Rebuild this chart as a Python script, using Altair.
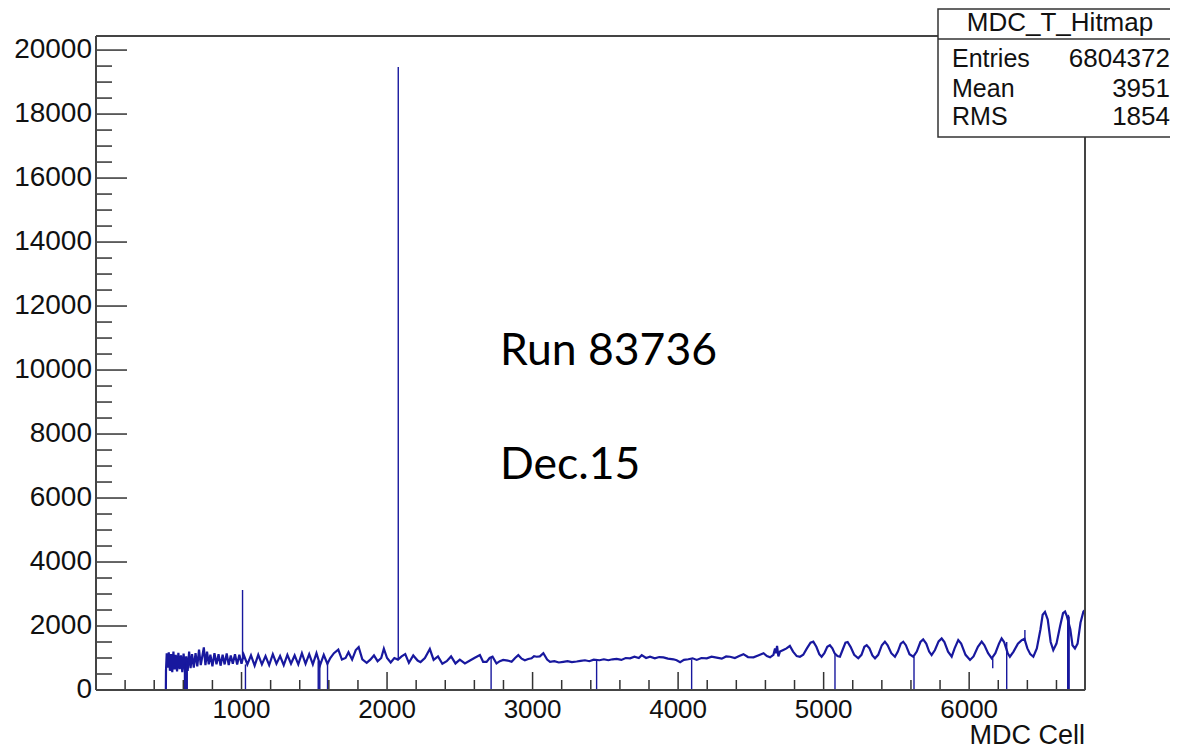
import altair as alt
import pandas as pd

# ---- histogram contents (cell, counts) ----
cells = [480, 481, 486, 493, 500, 508, 516, 524, 532, 540, 548, 557, 566, 575, 584, 593, 602, 611, 620, 630,
         640, 650, 660, 672, 684, 696, 708, 720, 741, 752, 763, 775, 786, 800, 814, 828, 842, 856, 870, 884,
         898, 912, 926, 940, 955, 970, 985, 1000,
         1015, 1040, 1065, 1090, 1115, 1140, 1165, 1190, 1215, 1240, 1265, 1290, 1315, 1340, 1365, 1390, 1415,
         1440, 1465, 1490, 1515, 1540, 1565, 1590, 1610,
         1635, 1665, 1690, 1715, 1735, 1760, 1785, 1805, 1830, 1860, 1885, 1910, 1935, 1960, 1978, 2000, 2025,
         2050, 2075, 2100,
         2125, 2150, 2180, 2210, 2230, 2260, 2294, 2320, 2350, 2380, 2410, 2440, 2470, 2500, 2535, 2570, 2600,
         2638, 2660, 2684, 2705, 2725, 2752, 2775,
         2798, 2830, 2856, 2880, 2902, 2925, 2947, 2970, 2993, 3010, 3028, 3050, 3074, 3100, 3120, 3150, 3180,
         3211, 3240, 3270, 3303, 3330, 3360, 3390, 3420, 3460, 3490, 3520, 3550, 3578, 3610, 3640, 3670, 3700,
         3730, 3750, 3780, 3807, 3840, 3870, 3899, 3930, 3968, 3990, 4014, 4040,
         4070, 4100, 4128, 4160, 4197, 4230, 4265, 4300, 4330, 4357, 4390, 4420, 4449, 4480, 4518, 4550, 4587,
         4610, 4632, 4655, 4666, 4672, 4680, 4689, 4700, 4723,
         4745, 4768, 4790, 4815, 4837, 4860, 4885, 4910, 4929, 4950, 4970, 4986, 5005, 5025, 5043, 5060, 5075,
         5095, 5112, 5130, 5150, 5165, 5185, 5210, 5238, 5260, 5280, 5296, 5315, 5335, 5353, 5375, 5400, 5421,
         5440, 5465, 5490, 5510, 5530, 5547, 5565, 5590, 5616, 5640, 5665, 5684, 5705, 5725, 5742, 5765, 5790,
         5811, 5830, 5855, 5880, 5900, 5925, 5945, 5975, 6006, 6030, 6060, 6086, 6105, 6130, 6155, 6180, 6205,
         6223, 6240, 6265, 6280, 6305, 6335, 6361, 6380, 6400, 6420, 6441, 6465, 6490, 6505, 6521, 6540, 6560,
         6578, 6600, 6625, 6645, 6659, 6672, 6695, 6710, 6727, 6745, 6765, 6785, 6796]
counts = [0, 620, 1150, 700, 1180, 600, 1120, 560, 1200, 640, 1100, 580, 1160, 650, 1080, 560, 1140, 620, 1050, 600,
          1200, 680, 1120, 700, 1150, 740, 1260, 780, 1330, 780, 1200, 800, 1100, 740, 1150, 800, 1120, 760, 1100, 800,
          1140, 780, 1080, 820, 1120, 800, 1100, 820,
          1100, 800, 1080, 760, 1100, 800, 1060, 780, 1120, 820, 1060, 780, 1100, 820, 1080, 800, 1150,
          820, 1120, 800, 1150, 780, 1100, 820, 1000,
          1150, 1260, 950, 1000, 1180, 950, 1250, 1340, 960, 850, 950, 1080, 900, 1000, 1290, 1000, 860,
          1000, 950, 1050,
          1120, 850, 1080, 920, 870, 1000, 1280, 940, 1050, 820, 900, 1050, 830, 950, 830, 920, 1000,
          1090, 880, 880, 1000, 1040, 830, 900,
          940, 920, 880, 1000, 1090, 980, 930, 970, 990, 1060, 1040, 1050, 1150, 950, 880, 900, 860,
          880, 900, 870, 890, 910, 930, 900, 950, 930, 960, 930, 960, 970, 940, 1000, 990, 1040,
          1000, 1090, 1000, 1040, 990, 1030, 1020, 980, 960, 930, 870, 940,
          960, 990, 940, 1000, 990, 1040, 1010, 980, 1050, 1040, 1000, 1060, 1120, 1030, 1020, 1080, 1150,
          1060, 1020, 1100, 1300, 1150, 1380, 1050, 1200, 1250,
          1300, 1380, 1200, 1060, 1040, 1100, 1300, 1480, 1510, 1350, 1120, 1040, 1150, 1350, 1400, 1300, 1150,
          1060, 1040, 1250, 1480, 1500, 1350, 1100, 990, 1100, 1350, 1400, 1300, 1080, 990, 1100, 1400, 1510,
          1400, 1150, 1040, 1200, 1450, 1510, 1400, 1120, 1040, 1200, 1500, 1580, 1450, 1200, 1090, 1250, 1520,
          1610, 1500, 1200, 1040, 1300, 1560, 1450, 1100, 940, 1050, 1350, 1510, 1400, 1150, 990, 1150, 1450,
          1610, 1500, 1150, 1040, 1200, 1450, 1560, 1600, 1300, 1120, 1040, 1300, 1900, 2350, 2440, 2200, 1500,
          1250, 1450, 2000, 2400, 2450, 2300, 1900, 1400, 1300, 1450, 2100, 2450, 2500]

# single-bin spikes and dead cells (cell, from, to)
rule_cells = [1007, 2077, 6383, 608, 613, 618, 623, 627, 1027, 1527, 1533, 1538, 1591, 2715, 3440, 4093,
              5078, 5621, 6162, 6258, 6677, 6682, 6687]
rule_lo = [1000, 950, 1550, 0, 0, 0, 0, 0, 0, 0, 0, 0, 0, 0, 0, 0, 0, 0, 677, 0, 0, 0, 0]
rule_hi = [3125, 19470, 1875, 800, 850, 800, 900, 800, 800, 900, 850, 900, 900, 1000, 950, 950,
           1150, 1040, 990, 1500, 2300, 2350, 2300]

x_labels = [1000, 2000, 3000, 4000, 5000, 6000]
x_minor = [v for v in range(200, 6796, 200) if v % 1000]
y_labels = list(range(0, 20001, 2000))
y_minor = [v for v in range(500, 20001, 500) if v % 2000]

stat_names = ["Entries", "Mean", "RMS"]
stat_values = ["6804372", "3951", "1854"]

W, H = 989, 654
BLUE = "#18189e"
FONT = "Liberation Sans"
TXT = "#111111"

main = pd.DataFrame({"cell": cells, "count": counts})
rules = pd.DataFrame({"cell": rule_cells, "lo": rule_lo, "hi": rule_hi})

xs = alt.Scale(domain=[0, 6796], nice=False, zero=False)
ys = alt.Scale(domain=[0, 20440], nice=False)
X = lambda f: alt.X(f, type="quantitative", scale=xs, axis=None)
Y = lambda f: alt.Y(f, type="quantitative", scale=ys, axis=None)

line = alt.Chart(main).mark_line(color=BLUE, strokeWidth=2.2).encode(x=X("cell"), y=Y("count"))

spikes = alt.Chart(rules).mark_rule(color=BLUE, strokeWidth=1.4).encode(x=X("cell"), y=Y("lo"), y2="hi:Q")

tick_color = "#333333"
xmaj = alt.Chart(pd.DataFrame({"cell": x_labels})).mark_rule(color=tick_color, strokeWidth=1.5).encode(
    x=X("cell"), y=alt.value(H), y2=alt.value(H - 18))
xmin = alt.Chart(pd.DataFrame({"cell": x_minor})).mark_rule(color=tick_color, strokeWidth=1.5).encode(
    x=X("cell"), y=alt.value(H), y2=alt.value(H - 10))
ymaj = alt.Chart(pd.DataFrame({"count": y_labels})).mark_rule(color=tick_color, strokeWidth=1.5).encode(
    y=Y("count"), x=alt.value(0), x2=alt.value(31))
ymin = alt.Chart(pd.DataFrame({"count": y_minor})).mark_rule(color=tick_color, strokeWidth=1.5).encode(
    y=Y("count"), x=alt.value(0), x2=alt.value(16))

xlab = alt.Chart(pd.DataFrame({"cell": x_labels, "t": [str(v) for v in x_labels]})).mark_text(
    font=FONT, fontSize=26, align="center", baseline="alphabetic", color=TXT).encode(
    x=X("cell"), y=alt.value(H + 28), text="t:N")
ylab = alt.Chart(pd.DataFrame({"count": y_labels, "t": [str(v) for v in y_labels]})).mark_text(
    font=FONT, fontSize=28, align="right", baseline="middle", color=TXT).encode(
    y=Y("count"), x=alt.value(-4), text="t:N")

one = alt.Data(values=[{"k": 1}])
frame_color = "#444444"
frame = [
    alt.Chart(one).mark_rule(color=frame_color, strokeWidth=2).encode(x=alt.value(0), x2=alt.value(W), y=alt.value(0)),
    alt.Chart(one).mark_rule(color=frame_color, strokeWidth=2).encode(x=alt.value(0), x2=alt.value(W), y=alt.value(H)),
    alt.Chart(one).mark_rule(color=frame_color, strokeWidth=2).encode(x=alt.value(0), y=alt.value(0), y2=alt.value(H)),
    alt.Chart(one).mark_rule(color=frame_color, strokeWidth=2).encode(x=alt.value(W), y=alt.value(0), y2=alt.value(H)),
]

box = alt.Chart(one).mark_rect(fill="white", stroke="#333333", strokeWidth=1.5).encode(
    x=alt.value(842), x2=alt.value(1100), y=alt.value(-27), y2=alt.value(101))
divider = alt.Chart(one).mark_rule(color="#333333", strokeWidth=1.5).encode(
    x=alt.value(842), x2=alt.value(1100), y=alt.value(3))
box_title = alt.Chart(one).mark_text(font=FONT, fontSize=26, align="center", baseline="alphabetic",
                                     color=TXT).encode(
    x=alt.value(964), y=alt.value(-5), text=alt.value("MDC_T_Hitmap"))
stat_layers = []
row_y = [31, 61, 89]
for name, val, yy in zip(stat_names, stat_values, row_y):
    stat_layers.append(alt.Chart(one).mark_text(font=FONT, fontSize=25, align="left", baseline="alphabetic",
                                                color=TXT).encode(
        x=alt.value(856), y=alt.value(yy), text=alt.value(name)))
    stat_layers.append(alt.Chart(one).mark_text(font=FONT, fontSize=26, align="right", baseline="alphabetic",
                                                color=TXT).encode(
        x=alt.value(1074), y=alt.value(yy), text=alt.value(val)))

xtitle = alt.Chart(one).mark_text(font=FONT, fontSize=27, align="right", baseline="alphabetic",
                                  color=TXT).encode(
    x=alt.value(W), y=alt.value(708), text=alt.value("MDC Cell"))

run_txt = alt.Chart(one).mark_text(font="Lato", fontSize=44.5, align="left", baseline="alphabetic",
                                   color="black").encode(
    x=alt.value(404), y=alt.value(329), text=alt.value("Run 83736"))
dec_txt = alt.Chart(one).mark_text(font="Lato", fontSize=44.5, align="left", baseline="alphabetic",
                                   color="black").encode(
    x=alt.value(404), y=alt.value(443), text=alt.value("Dec.15"))

chart = alt.layer(
    line, spikes, xmaj, xmin, ymaj, ymin, *frame, xlab, ylab, box, divider, box_title, *stat_layers, xtitle,
    run_txt, dec_txt
).properties(
    width=W, height=H,
    autosize=alt.AutoSizeParams(type="none"),
    padding={"left": 88, "top": 28, "right": 85, "bottom": 62},
).configure_view(stroke=None).configure(background="white")

chart.save("out.html", embed_options={"renderer": "svg", "actions": False})
